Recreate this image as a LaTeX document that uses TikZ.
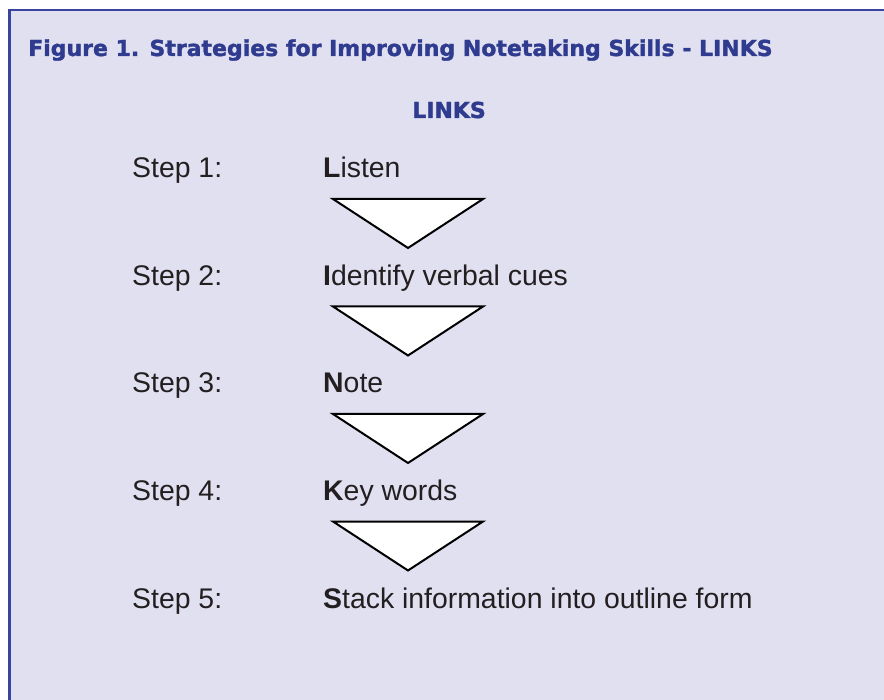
\documentclass[tikz,border=0pt]{standalone}
\usepackage{fontspec}
\setmainfont{Liberation Sans}
\newfontfamily\headfont[BoldFeatures={FakeBold=1.6}]{DejaVu Sans}
\definecolor{bgl}{HTML}{E1E0F1}
\definecolor{titleblue}{HTML}{2E3B8F}
\definecolor{frameblue}{HTML}{3A44A0}
\definecolor{inkgray}{HTML}{231F20}
\begin{document}
\begin{tikzpicture}[x=1pt,y=-1pt,
  headtxt/.style={inner sep=0pt,anchor=base west,text=titleblue,font=\headfont\bfseries\fontsize{22}{26}\selectfont},
  steptxt/.style={inner sep=0pt,anchor=base west,text=inkgray,font=\fontsize{28.4}{32}\selectfont},
  arrowtri/.style={fill=white,draw=black,line width=2pt,line join=miter}]
\useasboundingbox (0,0) rectangle (884,700);
\fill[white] (0,0) rectangle (884,700);
\fill[bgl] (9.5,10) rectangle (884,700);
\draw[frameblue,line width=2.5pt] (9.5,700) -- (9.5,10) -- (884,10);
\node[headtxt] (title) at (28,56) {Figure 1. Strategies for Improving Notetaking Skills - LINKS};
\node[headtxt,anchor=base] (links) at (449,118) {LINKS};
\foreach \i/\w in {1/{\textbf{L}isten},2/{\textbf{I}dentify verbal cues},3/{\textbf{N}ote},4/{\textbf{K}ey words},5/{\textbf{S}tack information into outline form}}{
  \pgfmathsetmacro{\yb}{178+107.5*(\i-1)}
  \node[steptxt] (s\i) at (132,\yb) {Step \i:};
  \node[steptxt] (l\i) at (323,\yb) {\w};
}
\foreach \i in {1,...,4}{
  \pgfmathsetmacro{\yt}{199+107.5*(\i-1)}
  \pgfmathsetmacro{\ya}{248+107.5*(\i-1)}
  \draw[arrowtri] (333,\yt) -- (483,\yt) -- (408,\ya) -- cycle;
}
\end{tikzpicture}
\end{document}
